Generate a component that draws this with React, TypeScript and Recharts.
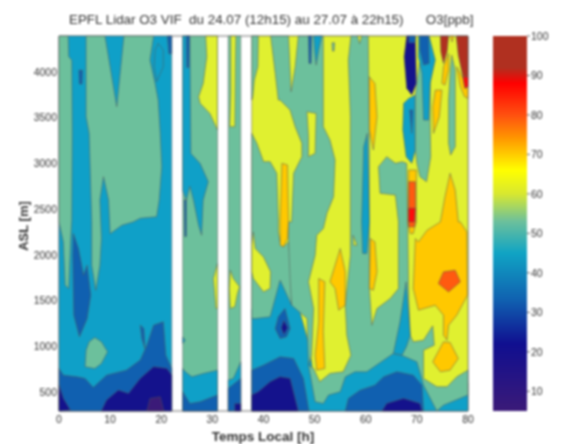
import React from 'react';
import { ScatterChart, Scatter, XAxis, YAxis, ReferenceArea, BarChart, Bar } from 'recharts';

type Pt = [number, number];
type Region = [number, Pt[]];

const hourTicks = [0, 10, 20, 30, 40, 50, 60, 70, 80];
const altitudeTicks = [500, 1000, 1500, 2000, 2500, 3000, 3500, 4000];
const ppbTicks = [10, 20, 30, 40, 50, 60, 70, 80, 90, 100];

const levelColors: Record<number, string> = {
  10: '#3b1a78', 20: '#14128c', 30: '#1060b0', 40: '#0fa0c8', 50: '#6cc09c',
  60: '#e0f030', 70: '#ffc800', 80: '#ff5a10', 90: '#ff0a0a', 100: '#b03020',
};

const colorbarValues = [100, 92, 88, 80, 74, 66, 60, 53, 45, 33, 22, 5];
const colorbarColors = ['#b03020', '#b03020', '#ff0000', '#ff5010', '#ff9800', '#ffff00', '#d8e830', '#6cc09c', '#10a4c4', '#1060b0', '#100f90', '#3b1a78'];

// contour regions per lidar period: [ppb level, [hour, altitude] outline], painted in order
const periodA: Region[] = [
  [40, [[0, 4395], [22.05, 4395], [22.05, 290], [0, 290]]],
  [50, [[0, 4395], [1.8, 4395], [1.9, 4170], [2.5, 4130], [2.6, 3330], [2.5, 2380], [2.3, 2180], [1.9, 1630], [1.2, 1670], [0.85, 2140], [0, 2360]]],
  [50, [[5.3, 4395], [9, 4395], [11.3, 3621], [12.7, 4395], [18.5, 4395], [17.8, 4132], [18.8, 3876], [19.4, 3694], [19.8, 3329], [20.1, 2965], [19.6, 2600], [19.1, 2417], [15.9, 2400], [14.5, 2360], [12.3, 2324], [11, 2270], [10, 2230], [9.7, 2600], [8.7, 2855], [8, 2600], [8.3, 2180], [8, 1886], [7.2, 1612], [6.4, 1886], [6.4, 2360], [5.9, 3329], [5.3, 3512]]],
  [40, [[19.4, 4314], [20.4, 4241], [20.4, 4059], [19.1, 3895], [18.6, 4059], [18.8, 4241]]],
  [30, [[21.2, 4395], [22.05, 4395], [22.05, 4200], [21.5, 4200]]],
  [30, [[3.9, 4020], [4.6, 4020], [4.5, 3870], [4, 3870]]],
  [30, [[2.8, 2232], [3.8, 2068], [4.8, 1777], [5.5, 1886], [6.2, 1558], [5.5, 1300], [4, 1102], [2.9, 1339], [2.7, 1995]]],
  [50, [[7, 1095], [8.3, 1047], [9.5, 938], [8.3, 810], [7, 755], [5.1, 774], [5.3, 956], [5.9, 1047]]],
  [30, [[15.9, 1230], [16.6, 1193], [16.8, 974], [16.2, 1084]]],
  [30, [[0, 755], [0.85, 682], [3.5, 664], [5.1, 646], [6.7, 547], [9.3, 682], [13.2, 737], [15.9, 847], [17.2, 1011], [18.5, 1230], [20.4, 1266], [20.9, 901], [22.05, 755], [22.05, 290], [0, 290]]],
  [20, [[0, 573], [0.85, 427], [2.2, 300], [0, 290]]],
  [20, [[8.3, 290], [9.3, 409], [11.6, 518], [13.6, 482], [15.9, 646], [18.5, 774], [21.1, 755], [22.05, 682], [22.05, 290]]],
  [10, [[17.2, 290], [17.8, 427], [19.8, 445], [20.5, 290]]],
];

const periodB: Region[] = [
  [50, [[24.2, 4395], [31, 4395], [31, 290], [24.2, 290]]],
  [40, [[24.2, 4395], [25.6, 4395], [25.8, 3110], [27.6, 3000], [29.2, 2800], [28.2, 2600], [27.9, 2214], [27.3, 2324], [26.3, 2600], [25.6, 2750], [24.9, 2600], [24.2, 2700]]],
  [30, [[24.9, 4395], [25.5, 4395], [25.4, 4050], [25, 4050]]],
  [30, [[24.5, 2600], [24.9, 2600], [24.9, 2200], [24.6, 2200]]],
  [60, [[28.7, 4395], [31, 4395], [31, 3366], [29.5, 3548], [27.6, 3658], [27.3, 3730], [28.2, 3876], [28.9, 4168]]],
  [60, [[31, 1904], [30.2, 1740], [30.7, 1412], [31, 1412]]],
  [40, [[24.2, 755], [24.7, 719], [26, 664], [28.2, 700], [31, 737], [31, 290], [24.2, 290]]],
  [40, [[24.2, 1100], [24.7, 1065], [24.2, 1030]]],
  [30, [[24.2, 500], [25.6, 372], [27.6, 391], [31, 464], [31, 290], [24.2, 290]]],
];

const periodC: Region[] = [
  [50, [[33.1, 4395], [35.55, 4395], [35.55, 290], [33.1, 290]]],
  [60, [[33.6, 4395], [34.6, 4395], [34.5, 4050], [34.4, 3402], [33.4, 3402], [33.6, 3770]]],
  [60, [[33.5, 1831], [34.1, 1740], [35.3, 1649], [34.9, 1576], [34.4, 1430], [33.5, 1412], [33.3, 1631]]],
  [40, [[33.1, 628], [34.1, 646], [35.55, 828], [35.55, 290], [33.1, 290]]],
  [30, [[33.1, 537], [35.55, 646], [35.55, 290], [33.1, 290]]],
  [20, [[34.4, 370], [35.55, 370], [35.55, 290], [34.4, 290]]],
];

const periodDBase: Region[] = [
  [60, [[37.7, 4395], [80, 4395], [80, 290], [37.7, 290]]],
  [40, [[37.7, 1400], [43, 1800], [45, 1800], [49, 1000], [50, 550], [53, 550], [57, 800], [65, 1000], [69, 1000], [70, 900], [71.3, 610], [73, 450], [75, 450], [80, 600], [80, 290], [37.7, 290]]],
  [50, [[37.7, 4395], [39, 4395], [38.9, 4058], [38.2, 3913], [37.9, 3730], [37.7, 3694]]],
  [50, [[41.4, 4395], [44.9, 4395], [45.4, 3785], [46.2, 4059], [46.8, 4395], [51.7, 4395], [51.7, 3402], [53, 3256], [54, 3037], [53.7, 2636], [52.4, 2454], [51.7, 2287], [50.4, 2214], [50.1, 1995], [48.8, 1704], [49.8, 1412], [49.4, 901], [48.8, 792], [48.5, 1302], [45.5, 1448], [44.9, 1740], [44.9, 1995], [44.9, 2360], [45.5, 2359], [45.9, 2892], [47.5, 3074], [47.5, 3220], [46.2, 3402], [45.2, 3585], [43.25, 3694], [42.9, 3694], [42.3, 3986]]],
  [50, [[37.7, 3329], [38.7, 3220], [40, 3019], [41.3, 3019], [42.6, 2892], [42.9, 2381], [42.9, 2250], [43.25, 2141], [43.9, 2086], [44.9, 2141], [45.2, 1740], [45.5, 1448], [43.25, 1722], [41.3, 1321], [38.4, 1302], [37.7, 1302]]],
  [50, [[57.1, 4395], [60.5, 4395], [60.7, 3329], [60.7, 2360], [60.7, 1631], [61.2, 1229], [62.2, 1412], [64.8, 1521], [66.4, 1631], [66.4, 2360], [65.8, 2655], [62.8, 2673], [62.5, 2965], [64.1, 3074], [65.8, 3001], [67.1, 3019], [68, 3001], [68.2, 2360], [68.4, 1521], [68.7, 1120], [69.3, 1047], [71.3, 1065], [73.1, 1222], [73.4, 1011], [71.3, 956], [71.3, 646], [73.9, 555], [75.9, 555], [77.8, 664], [80, 737], [80, 464], [75.2, 354], [73.9, 290], [71.3, 573], [70, 828], [67, 901], [65.4, 920], [60.2, 719], [57.9, 719], [56, 664], [55, 500], [52.7, 464], [51.7, 372], [50.1, 391], [48.8, 792], [49.8, 755], [51, 610], [53, 701], [55.6, 719], [57.1, 901], [56.3, 1120], [56, 1448], [57, 1995], [57, 2360], [57, 3512], [56.6, 4132]]],
];

const periodDLow: Region[] = [
  [60, [[38, 2250], [38.4, 2068], [40, 1977], [41.4, 1813], [41.3, 1631], [40, 1594], [38, 1740], [37.7, 1813], [37.7, 2105]]],
  [60, [[48.5, 3566], [50.3, 3548], [50.1, 3110], [48.8, 3074], [48.8, 3293]]],
  [30, [[48.8, 4395], [49.4, 4395], [49.3, 4095], [48.9, 4095]]],
  [40, [[49.8, 4395], [51.4, 4395], [50.8, 4241], [50.3, 4077], [50, 4241]]],
  [50, [[53.4, 4320], [53.9, 4320], [53.8, 4230], [53.5, 4230]]],
  [60, [[58.4, 4395], [59.2, 4395], [58.8, 4310]]],
  [60, [[57.5, 2214], [58.3, 2105], [57.6, 2105]]],
  [40, [[59.6, 3183], [60.3, 3329], [60.7, 2360], [60.2, 2014], [59.4, 2014], [59.2, 2360]]],
  [40, [[67.9, 1704], [68.7, 1120], [68, 1000], [67.1, 901], [65.4, 920], [66.7, 1266]]],
  [30, [[37.7, 737], [40, 792], [42.6, 865], [43.25, 883], [45.9, 865], [47.8, 646], [48.8, 318], [48.9, 290], [37.7, 290]]],
  [20, [[37.7, 464], [39, 500], [41.3, 610], [43.25, 664], [45.2, 646], [46.8, 290], [37.7, 290]]],
  [30, [[42.9, 1321], [44.2, 1412], [45.2, 1193], [44.5, 1102], [43.25, 1083], [42.3, 1190]]],
  [20, [[44, 1280], [44.7, 1200], [44, 1130], [43.5, 1200]]],
  [30, [[56, 290], [56.6, 427], [58.9, 518], [61.8, 573], [63.5, 664], [66.1, 719], [69.3, 682], [71, 573], [71.3, 290]]],
  [20, [[63.2, 290], [64.1, 372], [67.4, 427], [70.6, 372], [71, 290]]],
];

const periodDHigh: Region[] = [
  [70, [[43.6, 3001], [44.7, 2983], [44.9, 2360], [44.7, 2178], [43.9, 2086], [43.25, 2105], [43.25, 2360]]],
  [70, [[55, 2068], [56, 1813], [56, 1448], [54.7, 1394], [54, 1631], [53, 1704], [54, 1886]]],
  [70, [[50.8, 1740], [52, 1704], [51.7, 1157], [52, 755], [50.4, 737], [50.1, 901], [50.8, 1266]]],
  [70, [[60.7, 3949], [61.8, 3876], [62.2, 3512], [61.5, 3147], [60.7, 3366]]],
  [70, [[60.9, 2178], [61.8, 2141], [62.2, 1813], [61.5, 1612], [60.7, 1631]]],
  [70, [[69.7, 2178], [70.3, 2141], [72, 2269], [74.6, 2360], [75.5, 2636], [76.5, 2892], [77.5, 2709], [78.1, 2360], [78.5, 2360], [79.8, 2250], [79.9, 1558], [77.8, 1339], [76.2, 1229], [75.9, 1065], [75.2, 1120], [75.2, 1339], [73.6, 1448], [70.3, 1394], [69.3, 1631]]],
  [70, [[75.2, 1047], [76.5, 1040], [78.1, 865], [76.5, 737], [74.6, 719], [73.1, 828]]],
  [80, [[75.2, 1813], [77.5, 1831], [78.5, 1704], [76.2, 1594], [74.2, 1685]]],
  [70, [[68.4, 2928], [69.9, 2928], [69.9, 2360], [69.3, 2232], [68.7, 2232], [68.2, 2360]]],
  [80, [[68.4, 2800], [69.7, 2800], [69.7, 2360], [69.5, 2305], [68.4, 2305]]],
  [90, [[68.4, 2509], [69.7, 2509], [69.5, 2360], [68.4, 2360]]],
  [40, [[67.4, 3657], [68.4, 3712], [69.7, 3749], [69.7, 3147], [69, 3001], [67.9, 3074], [67.25, 3366]]],
  [20, [[68, 4395], [69.7, 4395], [69.9, 3876], [69, 3749], [68, 3822], [67.5, 4168]]],
  [30, [[68.4, 4395], [69.7, 4395], [69.7, 4320], [68.4, 4320]]],
  [30, [[68.6, 3585], [69.2, 3585], [69, 3329]]],
  [50, [[69.7, 3760], [70.5, 4100], [72.6, 3900], [72.6, 3439], [72.7, 3074], [71.9, 2800], [70.6, 2855], [70, 3001], [69.7, 3147]]],
  [40, [[70.3, 4395], [72.4, 4395], [73.6, 4132], [72.6, 3876], [72.3, 3475], [71.3, 3475], [71, 3986], [70.3, 4168]]],
  [30, [[70.6, 4395], [72.3, 4395], [72.4, 4095], [71.3, 4077], [70.6, 4241]]],
  [70, [[75.2, 4059], [76.2, 4205], [76.2, 4022], [75.5, 3858], [74.9, 3876]]],
  [100, [[74.6, 4395], [76.2, 4395], [75.9, 4223], [75.2, 4095], [74.7, 4223]]],
  [70, [[76.5, 4395], [77.2, 4395], [76.9, 4330]]],
  [50, [[76.8, 4186], [77.5, 4022], [77.5, 3183], [76.6, 3092], [76.2, 3220], [76.2, 3694], [76.5, 3986]]],
  [70, [[77.8, 4059], [79, 3931], [79.4, 3822], [80, 3840], [80, 3712], [79.3, 3730], [78.5, 3840]]],
  [100, [[77.7, 4395], [80, 4395], [80, 3949], [79, 3949], [78.1, 4186]]],
  [90, [[79, 3949], [80, 3949], [80, 3840], [79.4, 3822]]],
  [70, [[73.6, 3803], [74.9, 3803], [74.4, 3512], [73.25, 3329], [73.1, 3621]]],
];

const allRegions = [...periodA, ...periodB, ...periodC, ...periodDBase, ...periodDLow, ...periodDHigh];

const textColor = '#333';
const fontFamily = '"Liberation Sans", Arial, sans-serif';
const tick = { fontSize: 10.5, fill: textColor, fontFamily };

const noDot = () => null;

// Scatter hands its scaled points to the line renderer, so each outline closes into a filled contour
const contour = (fill: string) => (props: any) => (
  <polygon
    points={props.points.map((p: any) => `${p.x},${p.y}`).join(' ')}
    fill={fill}
    stroke="#555"
    strokeWidth={0.5}
    strokeLinejoin="round"
  />
);

const colorbarData = [{ name: 'O3', range: [5, 100] }];

export default function App() {
  return (
    <div style={{ position: 'fixed', left: 0, top: 0, width: 561, height: 444, background: '#fff', overflow: 'hidden', filter: 'blur(0.9px)', fontFamily }}>
      <div style={{ position: 'absolute', left: 69, top: 12, width: 430, fontSize: 13.4, color: textColor, whiteSpace: 'pre' }}>
        {'EPFL Lidar O3 VIF  du 24.07 (12h15) au 27.07 à 22h15)      O3[ppb]'}
      </div>
      <div style={{ position: 'absolute', left: 0, top: 0 }}>
        <ScatterChart width={561} height={444} margin={{ top: 36, right: 93, bottom: 0, left: 0 }}>
          <XAxis type="number" dataKey="h" domain={[0, 80]} ticks={hourTicks} tick={tick} tickLine={false} axisLine={false} height={33} interval={0} tickSize={0} tickMargin={5} />
          <YAxis type="number" dataKey="alt" domain={[290, 4395]} ticks={altitudeTicks} tick={tick} tickLine={false} axisLine={false} width={59} interval={0} tickSize={0} tickMargin={2} />
          {allRegions.map(([level, pts], i) => (
            <Scatter
              key={i}
              data={pts.map(([h, alt]) => ({ h, alt }))}
              line={contour(levelColors[level])}
              shape={noDot}
              legendType="none"
              isAnimationActive={false}
            />
          ))}
          <ReferenceArea x1={0} x2={80} y1={290} y2={4395} fill="none" stroke="#777" strokeWidth={1} ifOverflow="visible" />
        </ScatterChart>
      </div>
      <div style={{ position: 'absolute', left: 493, top: 0 }}>
        <BarChart width={68} height={444} data={colorbarData} margin={{ top: 36, right: 0, bottom: 33, left: 0 }} barCategoryGap={0}>
          <defs>
            <linearGradient id="ppbScale" x1="0" y1="0" x2="0" y2="1">
              {colorbarValues.map((v, i) => (
                <stop key={v} offset={(100 - v) / 95} stopColor={colorbarColors[i]} />
              ))}
            </linearGradient>
          </defs>
          <XAxis dataKey="name" hide />
          <YAxis orientation="right" type="number" domain={[5, 100]} ticks={ppbTicks} tick={tick} tickSize={3} axisLine={false} width={34} interval={0} tickMargin={1} />
          <Bar dataKey="range" fill="url(#ppbScale)" isAnimationActive={false} />
        </BarChart>
      </div>
      <div style={{ position: 'absolute', left: 23, top: 226, fontSize: 13, fontWeight: 'bold', color: textColor, whiteSpace: 'pre', transform: 'translate(-50%, -50%) rotate(-90deg)' }}>
        ASL [m]
      </div>
      <div style={{ position: 'absolute', left: 263, top: 436, fontSize: 13.5, fontWeight: 'bold', color: textColor, whiteSpace: 'pre', transform: 'translate(-50%, -50%)' }}>
        Temps Local [h]
      </div>
    </div>
  );
}
